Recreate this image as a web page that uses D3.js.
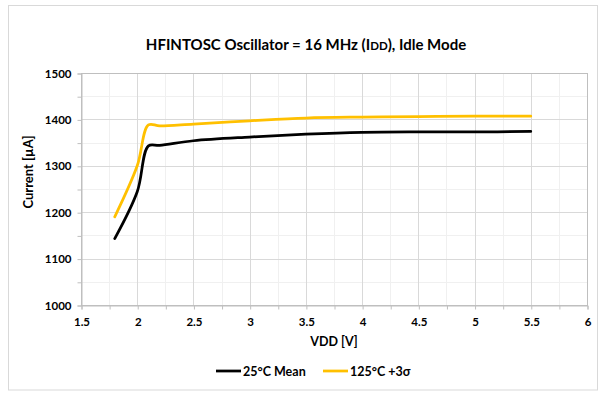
<!DOCTYPE html>
<html><head><meta charset="utf-8">
<script src="https://cdn.jsdelivr.net/npm/d3@7"></script>
<style>body{margin:0;background:#fff;}svg{display:block;font-family:Lato,"Open Sans",sans-serif;}</style>
</head><body><svg id="c" width="608" height="406"></svg>
<script>
const vdd25 = [1.8, 2.0, 2.1, 2.2, 2.5, 3.0, 3.5, 4.0, 4.5, 5.0, 5.5];
const mean25 = [1143, 1244, 1343, 1344, 1354, 1362, 1368, 1372, 1373, 1373, 1374];
const vdd125 = [1.8, 2.0, 2.1, 2.2, 2.5, 3.0, 3.5, 4.0, 4.5, 5.0, 5.5];
const sigma125 = [1190, 1300, 1388, 1386, 1390, 1397, 1403, 1405, 1406, 1407, 1407];
const xTicks = [1.5, 2, 2.5, 3, 3.5, 4, 4.5, 5, 5.5, 6];
const yTicks = [1000, 1100, 1200, 1300, 1400, 1500];
const seriesNames = ["25°C Mean", "125°C +3σ"];
const seriesColors = ["#000000", "#FFC000"];

const svg = d3.select("#c");
svg.append("rect").attr("x",8.5).attr("y",5.5).attr("width",589).attr("height",384.5)
  .attr("fill","#fff").attr("stroke","#d9d9d9");

const L=81, R=587, T=73, B=305;
const x = d3.scaleLinear().domain([1.5,6]).range([L,R]);
const y = d3.scaleLinear().domain([1000,1500]).range([B,T]);

const g = svg.append("g");
// minor grid
const xMinor = d3.range(1.75, 6, 0.5);
const yMinor = d3.range(1050, 1500, 100);
g.selectAll(".xm").data(xMinor).join("line").attr("x1",d=>Math.round(x(d))+0.5).attr("x2",d=>Math.round(x(d))+0.5)
  .attr("y1",T).attr("y2",B).attr("stroke","#f0f0f0");
g.selectAll(".ym").data(yMinor).join("line").attr("y1",d=>Math.round(y(d))+0.5).attr("y2",d=>Math.round(y(d))+0.5)
  .attr("x1",L).attr("x2",R).attr("stroke","#f0f0f0");
// major grid
g.selectAll(".xg").data(xTicks).join("line").attr("x1",d=>Math.round(x(d))+0.5).attr("x2",d=>Math.round(x(d))+0.5)
  .attr("y1",T).attr("y2",B).attr("stroke","#d9d9d9");
g.selectAll(".yg").data(yTicks).join("line").attr("y1",d=>Math.round(y(d))+0.5).attr("y2",d=>Math.round(y(d))+0.5)
  .attr("x1",L).attr("x2",R).attr("stroke","#d9d9d9");
// border
g.append("rect").attr("x",L+0.5).attr("y",T+0.5).attr("width",R-L).attr("height",B-T)
  .attr("fill","none").attr("stroke","#bfbfbf");

// axes
const xAxis = d3.axisBottom(x).tickValues(d3.range(1.5,6.01,0.25)).tickSize(4)
  .tickFormat(d=> xTicks.includes(d) ? String(d) : "");
const gx = svg.append("g").attr("transform",`translate(0.5,${B+0.5})`).call(xAxis);
gx.select(".domain").attr("stroke","#bfbfbf");
gx.selectAll(".tick line").attr("stroke","#bfbfbf");
gx.selectAll("text").attr("fill","#000").attr("font-size",11.5).attr("font-weight","bold")
  .attr("font-family","Lato,sans-serif").attr("dy","0.71em").attr("y",12);

const yAxis = d3.axisLeft(y).tickValues(d3.range(1000,1501,50)).tickSize(4)
  .tickFormat(d=> yTicks.includes(d) ? String(d) : "");
const gy = svg.append("g").attr("transform",`translate(${L+0.5},0.5)`).call(yAxis);
gy.select(".domain").attr("stroke","#bfbfbf");
gy.selectAll(".tick line").attr("stroke","#bfbfbf");
gy.selectAll("text").attr("fill","#000").attr("font-size",11.5).attr("font-weight","bold")
  .attr("font-family","Lato,sans-serif").attr("x",-10);

// lines
const line = d3.line().x(d=>x(d[0])).y(d=>y(d[1])).curve(d3.curveCatmullRom.alpha(0.5));
const data = [d3.zip(vdd25, mean25), d3.zip(vdd125, sigma125)];
svg.selectAll(".series").data(data).join("path").attr("d",line)
  .attr("fill","none").attr("stroke",(d,i)=>seriesColors[i]).attr("stroke-width",2.75)
  .attr("stroke-linejoin","round").attr("stroke-linecap","round");

// title
const title = svg.append("text").attr("x",306).attr("y",50).attr("text-anchor","middle")
  .attr("font-size",15).attr("font-weight","bold").attr("fill","#000");
title.append("tspan").text("HFINTOSC Oscillator = 16 MHz (I");
title.append("tspan").attr("font-size",11.5).text("DD");
title.append("tspan").text("), Idle Mode");

// axis titles
svg.append("text").attr("x",(L+R)/2).attr("y",346).attr("text-anchor","middle")
  .attr("font-size",12.5).attr("font-weight","bold").text("VDD [V]");
svg.append("text").attr("transform",`translate(33,172) rotate(-90)`).attr("text-anchor","middle")
  .attr("font-size",13).attr("font-weight","bold").text("Current [µA]");

// legend
const leg = [{x0:216,tx:243},{x0:323,tx:350}];
leg.forEach((p,i)=>{
  svg.append("line").attr("x1",p.x0).attr("x2",p.x0+25).attr("y1",371).attr("y2",371)
    .attr("stroke",seriesColors[i]).attr("stroke-width",2.75);
  svg.append("text").attr("x",p.tx).attr("y",375.5).attr("font-size",12.5).attr("font-weight","bold")
    .text(seriesNames[i]);
});
</script></body></html>
